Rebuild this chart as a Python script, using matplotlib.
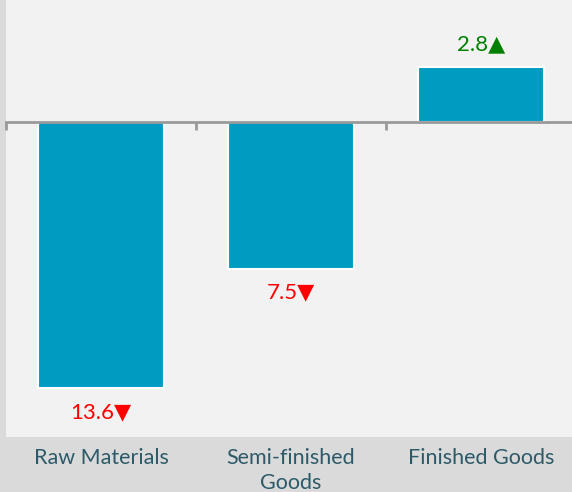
import matplotlib
matplotlib.use("Agg")
import matplotlib.pyplot as plt
import matplotlib.transforms as mtransforms

categories = ["Raw Materials", "Semi-finished\nGoods", "Finished Goods"]
values = [-13.6, -7.5, 2.8]
labels = ["13.6", "7.5", "2.8"]

W, H = 572, 492
fig = plt.figure(figsize=(W / 100, H / 100), dpi=100, facecolor="#dadada")
ax = fig.add_axes([6 / W, (H - 437) / H, 570 / W, 437 / H])
ax.set_facecolor("#f2f2f2")

x = list(range(len(categories)))
ax.bar(x, values, width=0.66, color="#009bc1", edgecolor="white", linewidth=1.5, zorder=3)

ax.set_xlim(-0.5, 2.5)
ax.set_ylim(-16.1, 6.24)

for s in ["top", "right", "left"]:
    ax.spines[s].set_visible(False)
ax.spines["bottom"].set_position(("data", 0))
ax.spines["bottom"].set_color("#9a9a9a")
ax.spines["bottom"].set_linewidth(2)
ax.spines["bottom"].set_zorder(4)
ax.set_xticks([-0.5, 0.5, 1.5, 2.5])
ax.set_xticklabels([])
ax.tick_params(axis="x", direction="out", length=6, width=2, color="#9a9a9a")
ax.set_yticks([])

fam = ["Lato", "DejaVu Sans"]
for xi, v, lab in zip(x, values, labels):
    if v < 0:
        ax.annotate(lab + "\u25BC", (xi, v), xytext=(0, -14), textcoords="offset pixels",
                    ha="center", va="top", color="#ff0000", fontsize=16, family=fam)
    else:
        ax.annotate(lab + "\u25B2", (xi, v), xytext=(0, 13), textcoords="offset pixels",
                    ha="center", va="bottom", color="#008000", fontsize=16, family=fam)

trans = mtransforms.blended_transform_factory(ax.transData, fig.transFigure)
for xi, c in zip(x, categories):
    ax.text(xi, 1 - 448 / H, c, transform=trans, ha="center", va="top", color="#2d5a68",
            fontsize=15.5, family=fam, linespacing=1.3, clip_on=False)

fig.savefig("out.png", dpi=100, facecolor=fig.get_facecolor())
